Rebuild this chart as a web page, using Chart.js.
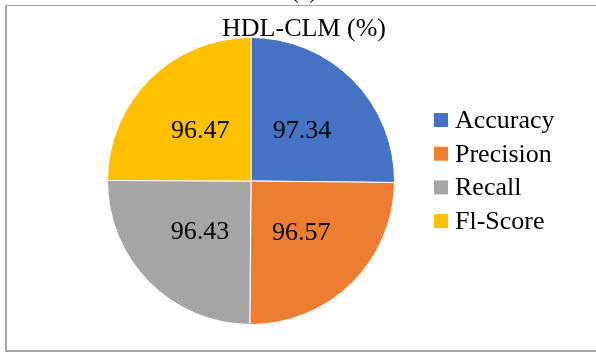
<!DOCTYPE html>
<html>
<head>
<meta charset="utf-8">
<script src="https://cdn.jsdelivr.net/npm/chart.js@4/dist/chart.umd.min.js"></script>
<style>
  html, body { margin: 0; padding: 0; background: #fff; overflow: hidden; }
  #wrap { position: relative; width: 596px; height: 352px; }
  #frame {
    position: absolute; left: 5px; top: 5px; width: 610px; height: 344px;
    border-left: 2px solid #a6a6a6; border-top: 1px solid #a6a6a6; border-bottom: 2px solid #a6a6a6;
  }
  canvas { position: absolute; left: 0; top: 0; }
</style>
</head>
<body>
<div id="wrap">
  <div id="frame"></div>
  <canvas id="pieChart" width="596" height="352"></canvas>
</div>
<script>
// Metric names and HDL-CLM scores (%)
const metrics = ['Accuracy', 'Precision', 'Recall', 'Fl-Score'];
const scores = [97.34, 96.57, 96.43, 96.47];
const sliceColors = ['#4472C4', '#ED7D31', '#A5A5A5', '#FFC000'];

const chartTitle = 'HDL-CLM (%)';
const panelLabel = '(a)';
const serif = '"Liberation Serif", "Times New Roman", serif';

// Title, value labels and legend are drawn by hand so they sit where the figure has them
const annotations = {
  id: 'annotations',
  afterDraw(chart) {
    const ctx = chart.ctx;
    ctx.save();
    ctx.fillStyle = '#000';
    ctx.textAlign = 'center';

    ctx.font = '24px ' + serif;
    ctx.textBaseline = 'alphabetic';
    ctx.fillText(panelLabel, 304, -2);

    ctx.font = '26px ' + serif;
    ctx.textBaseline = 'middle';
    ctx.fillText(chartTitle, 304, 29);

    // value inside each slice
    const meta = chart.getDatasetMeta(0);
    meta.data.forEach((arc, i) => {
      const p = arc.getProps(['x', 'y', 'startAngle', 'endAngle', 'outerRadius'], true);
      const mid = (p.startAngle + p.endAngle) / 2;
      const r = p.outerRadius * 0.5;
      ctx.fillText(scores[i].toFixed(2), p.x + Math.cos(mid) * r, p.y + Math.sin(mid) * r + 1);
    });

    // legend
    ctx.textAlign = 'left';
    metrics.forEach((name, i) => {
      const cy = 120 + i * 33.7;
      ctx.fillStyle = sliceColors[i];
      ctx.fillRect(434, cy - 7, 14, 14);
      ctx.fillStyle = '#000';
      ctx.fillText(name, 455, cy + 1);
    });
    ctx.restore();
  }
};

new Chart(document.getElementById('pieChart'), {
  type: 'pie',
  data: {
    labels: metrics,
    datasets: [{
      data: scores,
      backgroundColor: sliceColors,
      borderColor: '#ffffff',
      borderWidth: 1
    }]
  },
  options: {
    responsive: false,
    animation: false,
    layout: { padding: { top: 37, bottom: 27, left: 0, right: 94 } },
    plugins: {
      legend: { display: false },
      title: { display: false },
      tooltip: { enabled: false }
    }
  },
  plugins: [annotations]
});
</script>
</body>
</html>
